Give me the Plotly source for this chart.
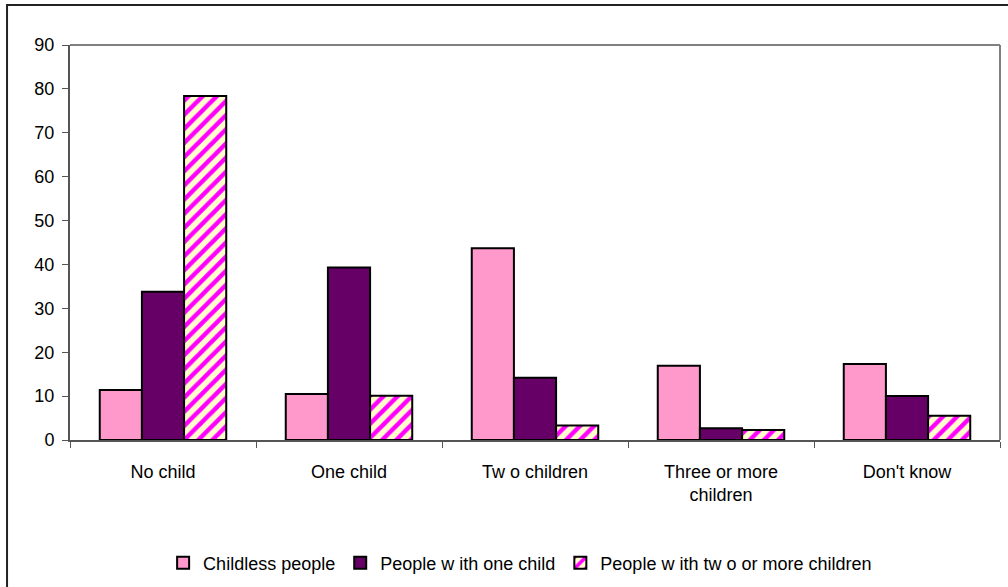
import plotly.graph_objects as go

# Preferred number of children, by current family situation (%)
categories = ["No child", "One child", "Tw o children", "Three or more children", "Don't know"]
tick_labels = ["No child", "One child", "Tw o children", "Three or more<br>children", "Don't know"]

childless = [11.4, 10.5, 43.7, 16.9, 17.3]
one_child = [33.8, 39.3, 14.2, 2.7, 10.0]
two_plus = [78.4, 10.1, 3.3, 2.3, 5.5]

series_names = ["Childless people", "People w ith one child", "People w ith tw o or more children"]

FONT = "Liberation Sans, Arial, sans-serif"
FS = 18

fig = go.Figure()
fig.add_trace(go.Bar(
    x=categories, y=childless, name=series_names[0],
    marker=dict(color="#FF99CC", line=dict(color="#000000", width=2)),
))
fig.add_trace(go.Bar(
    x=categories, y=one_child, name=series_names[1],
    marker=dict(color="#660066", line=dict(color="#000000", width=2)),
))
fig.add_trace(go.Bar(
    x=categories, y=two_plus, name=series_names[2],
    marker=dict(
        color="#FFFFCC",
        line=dict(color="#000000", width=2),
        pattern=dict(shape="/", fgcolor="#FF00FF", bgcolor="#FFFFCC",
                     size=10, solidity=0.45, fillmode="replace"),
    ),
))

fig.update_layout(
    width=1008, height=587,
    margin=dict(l=70, r=8, t=45, b=147, autoexpand=False),
    paper_bgcolor="white", plot_bgcolor="white",
    barmode="group", bargap=0.32, bargroupgap=0,
    font=dict(family=FONT, size=FS, color="#000000"),
    showlegend=True,
    legend=dict(
        orientation="h", x=0.484, xanchor="center",
        yref="container", y=0.041, yanchor="middle",
        font=dict(family=FONT, size=FS), itemsizing="constant", itemwidth=30,
        bgcolor="rgba(0,0,0,0)", traceorder="normal",
    ),
    xaxis=dict(
        type="category", tickmode="array", tickvals=categories, ticktext=tick_labels,
        tickson="boundaries", ticks="outside", ticklen=6, tickcolor="#555555", tickwidth=1,
        showline=True, linecolor="#555555", linewidth=2,
        showgrid=False, zeroline=False, ticklabelstandoff=14,
        tickfont=dict(family=FONT, size=FS),
    ),
    yaxis=dict(
        range=[0, 90], tickmode="linear", tick0=0, dtick=10,
        ticks="outside", ticklen=6, tickcolor="#555555", tickwidth=1,
        showline=True, linecolor="#555555", linewidth=2,
        showgrid=False, zeroline=False, ticklabelstandoff=4,
        tickfont=dict(family=FONT, size=FS),
    ),
    shapes=[
        # plot-area border on top and right
        dict(type="line", xref="paper", yref="paper", x0=0, x1=1, y0=1, y1=1,
             line=dict(color="#808080", width=2)),
        dict(type="line", xref="paper", yref="paper", x0=1, x1=1, y0=0, y1=1,
             line=dict(color="#808080", width=2)),
        # outer chart frame
        dict(type="rect", xref="paper", yref="paper",
             x0=-0.0677, x1=1.02, y0=-0.39, y1=1.1013,
             line=dict(color="#222222", width=2), fillcolor="rgba(0,0,0,0)"),
    ],
)

fig.write_html("out.html")
